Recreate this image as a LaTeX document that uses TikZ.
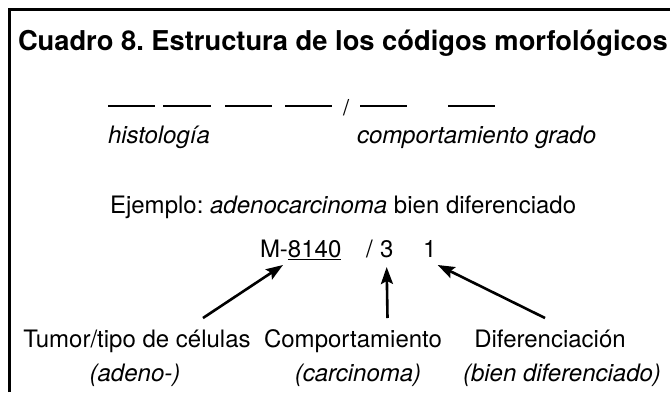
\documentclass[tikz,border=0pt]{standalone}
\usepackage{fontspec}
\setmainfont{TeX Gyre Heros}
\usetikzlibrary{arrows.meta}
\frenchspacing
\tikzset{
  >={Stealth[length=17pt,width=12pt,inset=3pt]},
  txt/.style = {inner sep=0, outer sep=0, font=\fontsize{24}{28}\selectfont},
  ttl/.style = {inner sep=0, outer sep=0, font=\fontsize{27.3}{32}\selectfont\bfseries},
  slot/.style = {line width=1.4pt},
  frame/.style = {line width=3pt},
  pointer/.style = {line width=2.6pt, ->},
}

\begin{document}
\begin{tikzpicture}[x=1pt,y=-1pt]
\useasboundingbox (0,0) rectangle (670,392);
\draw[frame] (9.5,392) -- (9.5,9.5) -- (670,9.5);
\node[ttl, anchor=base west] (title) at (18,50) {Cuadro 8. Estructura de los códigos morfológicos};
% casillas del codigo
\foreach \a/\b in {108/155,163/211,225/272,285/332,360/407,448/495}
  \draw[slot] (\a,106) -- (\b,106);
\node[txt, anchor=base west, font=\fontsize{22}{26}\selectfont] (bar) at (343,115) {/};
\node[txt, anchor=base west] (histo) at (108,143) {\itshape histología};
\node[txt, anchor=base west] (compgr) at (357,143) {\itshape comportamiento grado};
% ejemplo
\node[txt, anchor=base west] (ej) at (110,213) {Ejemplo: \textit{adenocarcinoma} bien diferenciado};
\node[txt, anchor=base west] (code) at (260,257) {M-\underline{8140}};
\node[txt, anchor=base west] (sl) at (366,257) {/};
\node[txt, anchor=base west] (beh) at (380,257) {3};
\node[txt, anchor=base west] (grade) at (423,257) {1};
% etiquetas
\node[txt, anchor=base] (tumor) at (137,347) {Tumor/tipo de células};
\node[txt, anchor=base] (tumorex) at (135,381) {\itshape (adeno-)};
\node[txt, anchor=base] (comp) at (353,347) {Comportamiento};
\node[txt, anchor=base] (compex) at (358,381) {\itshape (carcinoma)};
\node[txt, anchor=base] (dif) at (550,347) {Diferenciación};
\node[txt, anchor=base] (difex) at (562,381) {\itshape (bien diferenciado)};
\coordinate (t1) at (203,318);
\coordinate (t2) at (387.5,318);
\coordinate (t3) at (545,318);
\draw[pointer] (t1) -- ([xshift=23pt,yshift=-8pt]code.base west);
\draw[pointer] (t2) -- ([yshift=-10pt]beh.base);
\draw[pointer] (t3) -- ([xshift=8pt,yshift=-8pt]grade.base);
\end{tikzpicture}
\end{document}
